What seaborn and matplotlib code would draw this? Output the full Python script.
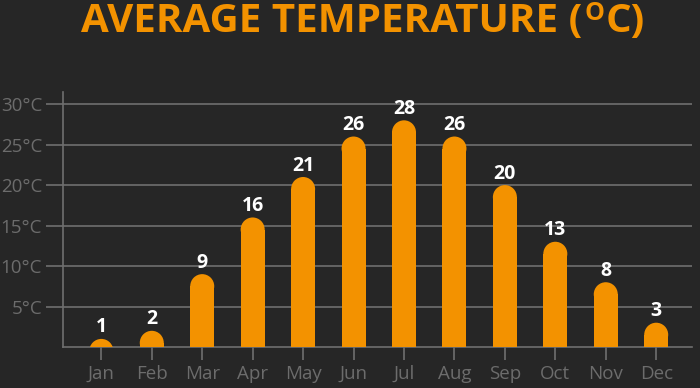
import matplotlib
matplotlib.use("Agg")
import matplotlib.pyplot as plt
import pandas as pd
import seaborn as sns
from matplotlib.patches import Ellipse

months = ["Jan", "Feb", "Mar", "Apr", "May", "Jun",
          "Jul", "Aug", "Sep", "Oct", "Nov", "Dec"]
temps = [1, 2, 9, 16, 21, 26, 28, 26, 20, 13, 8, 3]
y_ticks = [5, 10, 15, 20, 25, 30]
y_labels = [f"{t}°C" for t in y_ticks]

BG = "#262626"
ORANGE = "#f39200"
GRID = "#6f6f6f"
LABEL = "#6c6c6c"

sns.set_style("dark")
plt.rcParams["font.family"] = ["Open Sans", "DejaVu Sans"]

df = pd.DataFrame({"month": months, "temp": temps})

fig = plt.figure(figsize=(7, 3.88), dpi=100, facecolor=BG)
ax = fig.add_axes([0.09, 0.1057, 0.8986, 0.6572])
ax.set_facecolor(BG)

bar_w = 0.476
sns.barplot(data=df, x="month", y="temp", color=ORANGE, saturation=1,
            width=bar_w, ax=ax, zorder=3)

ax.set_xlim(-0.76, 11.71)
ax.set_ylim(0, 31.5)

# px per data unit ~ 8.07 in y; cap radius ~12 px
r_y = 12 / 8.07
for patch, val in zip(ax.patches, temps):
    x0 = patch.get_x()
    w = patch.get_width()
    h = max(val - r_y, 0)
    patch.set_height(h)
    patch.set_linewidth(0)
    cap = Ellipse((x0 + w / 2, val - r_y), w, 2 * r_y,
                  facecolor=ORANGE, edgecolor="none", zorder=3)
    ax.add_patch(cap)
    ax.text(x0 + w / 2, val + 0.8, str(val), ha="center", va="baseline",
            color="white", fontsize=14, fontweight="bold", zorder=4)

ax.set_yticks(y_ticks)
ax.set_yticklabels(y_labels)
ax.grid(axis="y", color=GRID, linewidth=1.2, zorder=0)
ax.grid(axis="x", visible=False)
ax.tick_params(axis="y", length=12, width=1.2, color=GRID,
               labelcolor=LABEL, labelsize=13.5, pad=3, left=True)
ax.tick_params(axis="x", length=9, width=1.2, color=GRID,
               labelcolor=LABEL, labelsize=13.5, pad=4, bottom=True)
ax.set_xlabel("")
ax.set_ylabel("")

for side in ["top", "right"]:
    ax.spines[side].set_visible(False)
for side in ["left", "bottom"]:
    ax.spines[side].set_visible(True)
    ax.spines[side].set_color(GRID)
    ax.spines[side].set_linewidth(1.2)

# title in pieces so the superscript O sits right under the top edge
H = 388
title_kw = dict(color=ORANGE, fontweight="bold", annotation_clip=False)
t1 = ax.annotate("AVERAGE TEMPERATURE (", xy=(81, H - 32),
                 xycoords="figure pixels", ha="left", va="baseline",
                 fontsize=29, **title_kw)
t2 = ax.annotate("O", xy=(1, H - 20), xycoords=(t1, "figure pixels"),
                 xytext=(2, 0), textcoords="offset pixels",
                 ha="left", va="baseline", fontsize=18, **title_kw)
ax.annotate("C)", xy=(1, H - 32), xycoords=(t2, "figure pixels"),
            xytext=(1, 0), textcoords="offset pixels",
            ha="left", va="baseline", fontsize=29, **title_kw)

fig.savefig("out.png", dpi=100, facecolor=BG)
